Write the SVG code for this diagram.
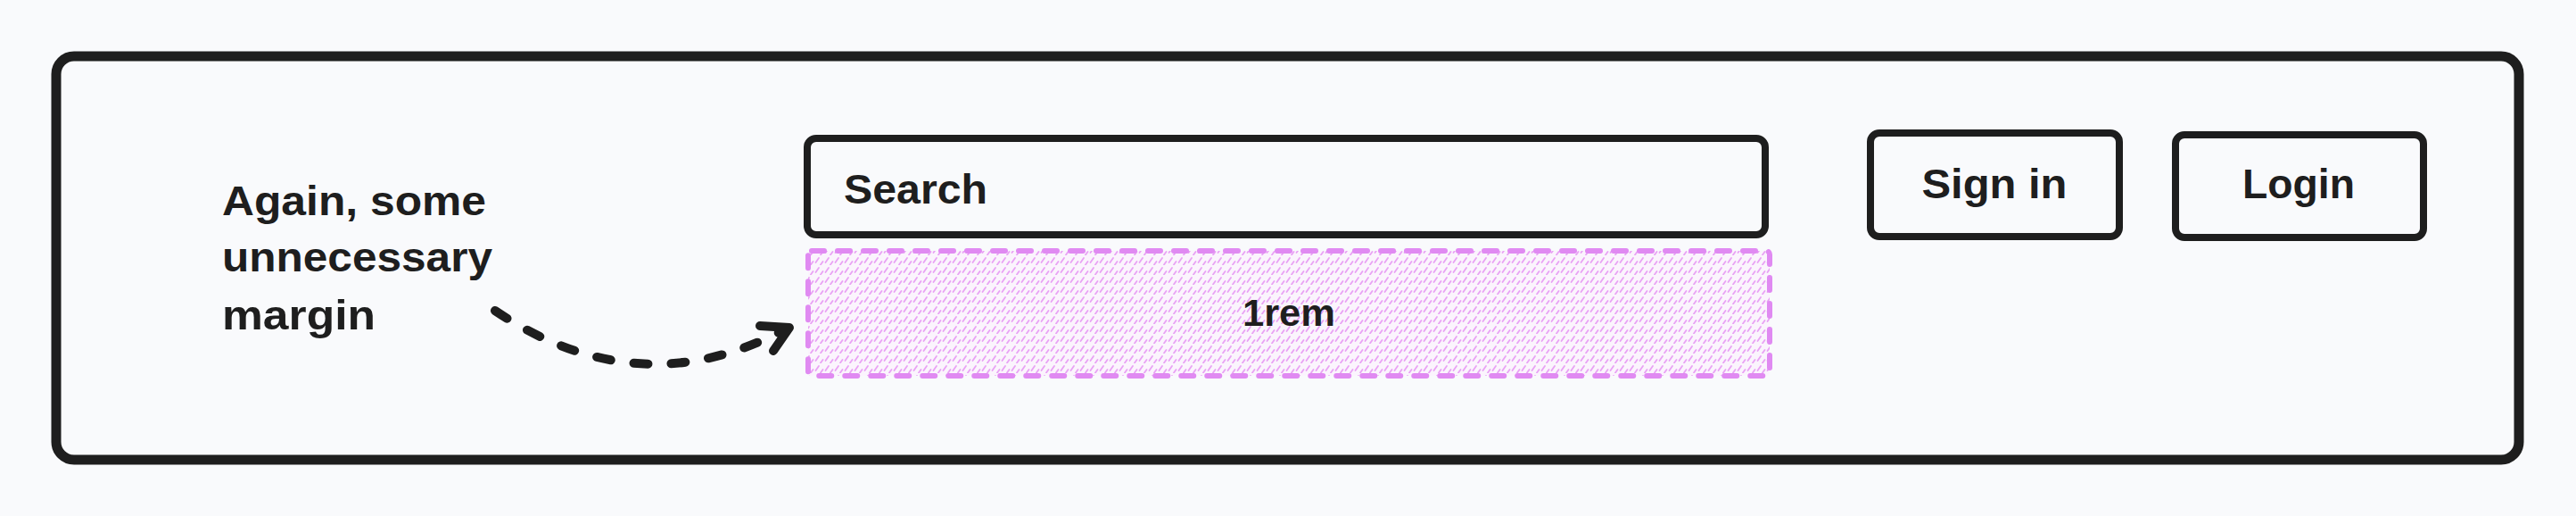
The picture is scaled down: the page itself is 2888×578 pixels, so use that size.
<svg xmlns="http://www.w3.org/2000/svg" width="2888" height="578" viewBox="0 0 2888 578">
  <style>
    .box { fill: #f9fafc; stroke: #1e1e1e; stroke-linejoin: round; }
    .lbl { font-family: "Liberation Sans", "DejaVu Sans", sans-serif; font-weight: 700; fill: #1e1e1e; }
    .margin { fill: url(#hatch); stroke: #e08af2; stroke-width: 6; stroke-dasharray: 14 15; stroke-linecap: round; }
    .conn { fill: none; stroke: #1e1e1e; stroke-width: 10; stroke-linecap: round; stroke-linejoin: round; }
  </style>
  <defs>
    <pattern id="hatch" patternUnits="userSpaceOnUse" width="11" height="11">
      <rect width="11" height="11" fill="#fbf4fd"/>
      <line x1="1.5" y1="8" x2="5" y2="3" stroke="#e9a2f5" stroke-width="1.8" stroke-linecap="round"/>
      <line x1="7" y1="10.5" x2="9.5" y2="7" stroke="#e9a2f5" stroke-width="1.8" stroke-linecap="round"/>
    </pattern>
  </defs>
  <rect width="2888" height="578" fill="#f9fafc"/>

  <g id="frame">
    <rect class="box" x="63" y="63" width="2761" height="452" rx="20" stroke-width="11"/>
  </g>

  <g id="note">
    <text class="lbl" font-size="46" x="249" y="241" textLength="296" lengthAdjust="spacingAndGlyphs">Again, some</text>
    <text class="lbl" font-size="46" x="249" y="304" textLength="303" lengthAdjust="spacingAndGlyphs">unnecessary</text>
    <text class="lbl" font-size="46" x="249" y="369" textLength="172" lengthAdjust="spacingAndGlyphs">margin</text>
  </g>

  <g id="search">
    <rect class="box" x="905" y="155" width="1074" height="108" rx="10" stroke-width="8"/>
    <text class="lbl" font-size="47" x="946" y="228" textLength="161" lengthAdjust="spacingAndGlyphs">Search</text>
  </g>

  <g id="margin-1rem">
    <rect class="margin" x="906" y="281" width="1078" height="140" rx="4"/>
    <text class="lbl" font-size="42" x="1445" y="365" text-anchor="middle" textLength="104" lengthAdjust="spacingAndGlyphs">1rem</text>
  </g>

  <g id="sign-in">
    <rect class="box" x="2097" y="149" width="279" height="116" rx="10" stroke-width="8"/>
    <text class="lbl" font-size="46" x="2236" y="222" text-anchor="middle" textLength="163" lengthAdjust="spacingAndGlyphs">Sign in</text>
  </g>

  <g id="login">
    <rect class="box" x="2439" y="151" width="278" height="115" rx="10" stroke-width="8"/>
    <text class="lbl" font-size="46" x="2577" y="222" text-anchor="middle" textLength="126" lengthAdjust="spacingAndGlyphs">Login</text>
  </g>

  <g id="connectors">
    <path class="conn" d="M 555 348 Q 716 456 880 369" stroke-dasharray="16 26"/>
    <path class="conn" d="M 852 365 L 885 367 L 867 393"/>
  </g>
</svg>
